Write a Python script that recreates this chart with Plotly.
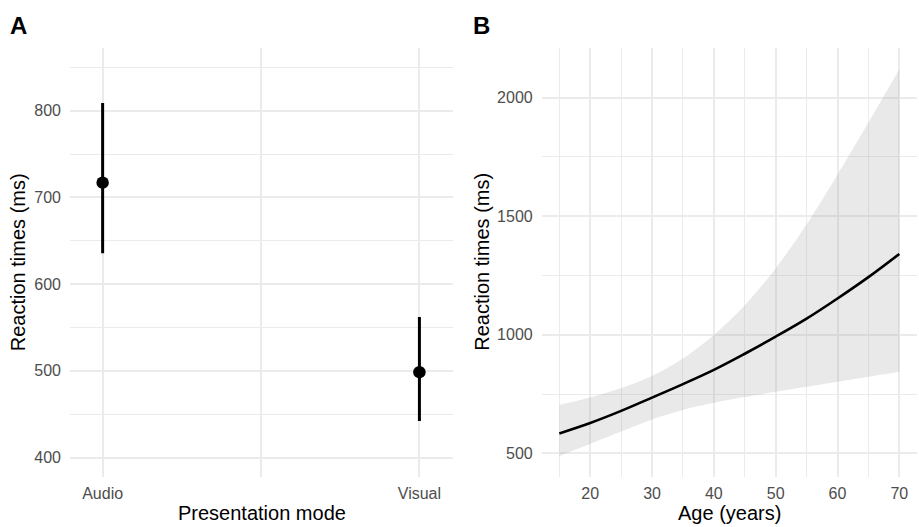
import plotly.graph_objects as go

# ---- Panel A data ----
modes = ["Audio", "Visual"]
mode_pos = [0, 1]
rt_mean = [717, 498.5]
rt_lower = [635.5, 442]
rt_upper = [809, 562]

# ---- Panel B data ----
ages = [15, 20, 25, 30, 35, 40, 45, 50, 55, 60, 65, 70]
rt_fit = [584, 628, 679, 735, 792, 852, 920, 992, 1068, 1153, 1243, 1341]
rt_ci_low = [488, 540, 592, 643, 683, 713, 737, 760, 781, 802, 823, 844]
rt_ci_high = [704, 735, 775, 826, 900, 999, 1125, 1280, 1465, 1675, 1895, 2120]

W, H = 919, 527
FONT = "Liberation Sans, Arial, Helvetica, sans-serif"
GRID = "#EBEBEB"
TICKC = "#4D4D4D"

fig = go.Figure()

err_plus = [u - m for u, m in zip(rt_upper, rt_mean)]
err_minus = [m - l for m, l in zip(rt_mean, rt_lower)]
fig.add_trace(go.Scatter(
    x=mode_pos, y=rt_mean, mode="markers",
    marker=dict(color="black", size=12.5),
    error_y=dict(type="data", symmetric=False, array=err_plus, arrayminus=err_minus,
                 color="black", thickness=3, width=0),
    xaxis="x", yaxis="y", showlegend=False, hoverinfo="skip"))

fig.add_trace(go.Scatter(
    x=ages, y=rt_ci_low, mode="lines", line=dict(width=0, shape="spline", smoothing=0.8),
    xaxis="x2", yaxis="y2", showlegend=False, hoverinfo="skip"))
fig.add_trace(go.Scatter(
    x=ages, y=rt_ci_high, mode="lines", line=dict(width=0, shape="spline", smoothing=0.8),
    fill="tonexty", fillcolor="rgba(153,153,153,0.22)",
    xaxis="x2", yaxis="y2", showlegend=False, hoverinfo="skip"))
fig.add_trace(go.Scatter(
    x=ages, y=rt_fit, mode="lines", line=dict(color="black", width=2.6, shape="spline"),
    xaxis="x2", yaxis="y2", showlegend=False, hoverinfo="skip"))

def px_x(a, b):
    return [a / W, b / W]

def px_y(top, bottom):
    return [1 - bottom / H, 1 - top / H]

tickfont = dict(family=FONT, size=16, color=TICKC)
common = dict(showline=False, zeroline=False, ticks="", gridcolor=GRID, gridwidth=2.2,
              tickfont=tickfont, showgrid=True)
minor = lambda vals: dict(tickvals=vals, showgrid=True, gridcolor=GRID, gridwidth=1.3, ticks="")

fig.update_layout(
    width=W, height=H, margin=dict(l=0, r=0, t=0, b=0),
    paper_bgcolor="white", plot_bgcolor="white",
    xaxis=dict(domain=px_x(70, 453), range=[-0.103, 1.106], tickmode="array",
               tickvals=[0, 0.5, 1], ticktext=["Audio", "", "Visual"],
               ticklabelstandoff=5, anchor="y", **common),
    yaxis=dict(domain=px_y(47.7, 476.7), range=[377.9, 872.7], tickmode="array",
               tickvals=[400, 500, 600, 700, 800],
               minor=minor([450, 550, 650, 750, 850]),
               ticklabelstandoff=8, anchor="x", **common),
    xaxis2=dict(domain=px_x(541.7, 917), range=[12.15, 72.86], tickmode="array",
                tickvals=[20, 30, 40, 50, 60, 70],
                minor=minor([15, 25, 35, 45, 55, 65]),
                ticklabelstandoff=5, anchor="y2", **common),
    yaxis2=dict(domain=px_y(47.7, 476.7), range=[401.3, 2211], tickmode="array",
                tickvals=[500, 1000, 1500, 2000],
                minor=minor([750, 1250, 1750]),
                ticklabelstandoff=8, anchor="x2", **common),
)

titlefont = dict(family=FONT, size=20, color="black")
tagfont = dict(family=FONT, size=24, color="black")

def ann(text, x, y, font, angle=0, xanchor="center", yanchor="middle"):
    fig.add_annotation(text=text, x=x / W, y=1 - y / H, xref="paper", yref="paper",
                       showarrow=False, font=font, textangle=angle,
                       xanchor=xanchor, yanchor=yanchor)

ann("Presentation mode", 261.5, 513, titlefont)
ann("Age (years)", 729.4, 513, titlefont)
ann("Reaction times (ms)", 18, 262.2, titlefont, angle=-90)
ann("Reaction times (ms)", 482.5, 262.2, titlefont, angle=-90)
ann("<b>A</b>", 8, 25, tagfont, xanchor="left")
ann("<b>B</b>", 471, 25, tagfont, xanchor="left")

fig.write_html("out.html")
